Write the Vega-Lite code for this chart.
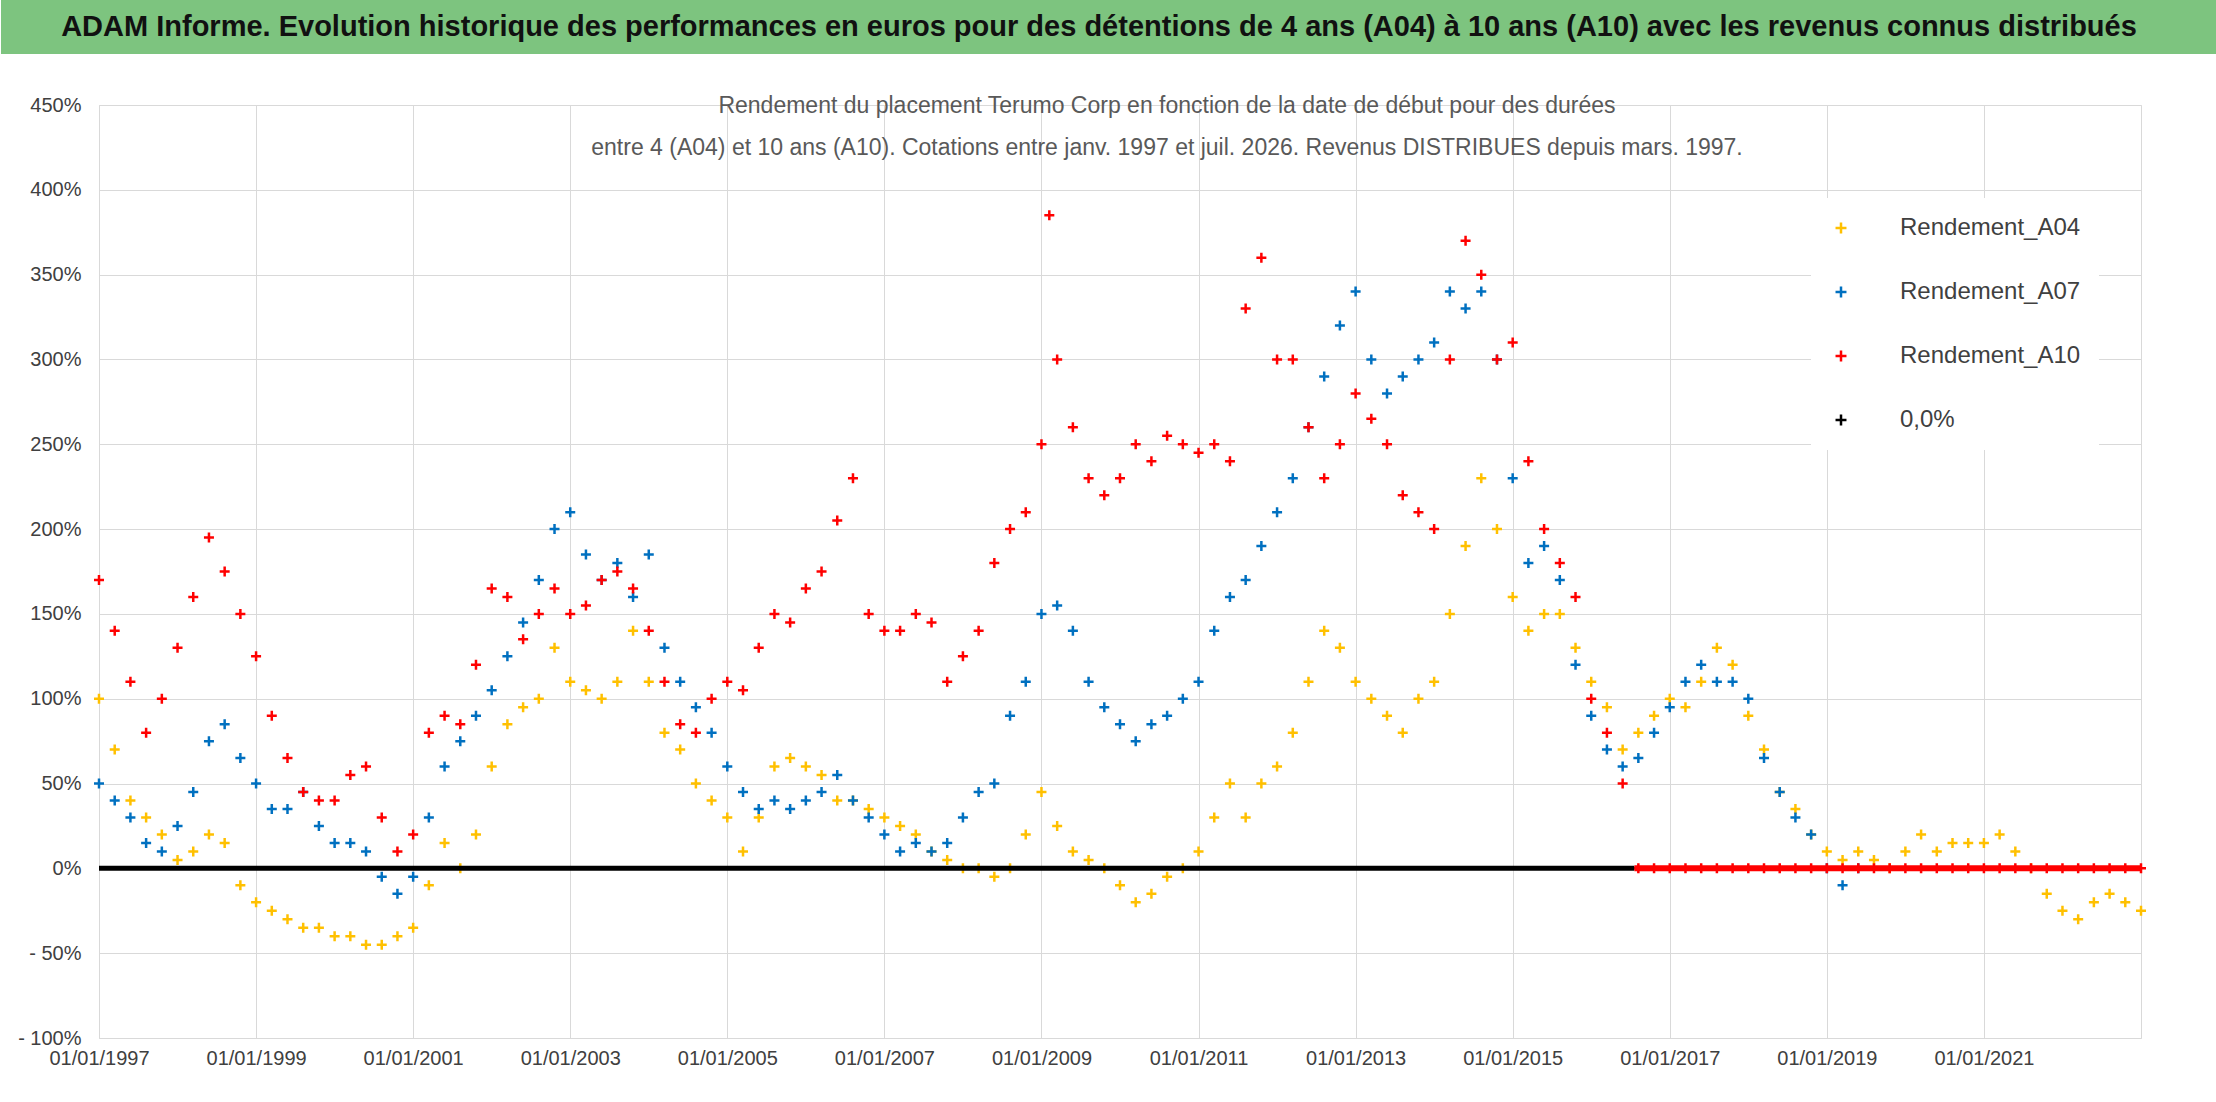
{
  "$schema": "https://vega.github.io/schema/vega-lite/v6.json",
  "padding": {"left": 0, "top": 0, "right": 0, "bottom": 4},
  "spacing": 40,
  "background": "white",
  "config": {"view": {"stroke": "#d9d9d9"}, "font": "Liberation Sans"},
  "datasets": {
    "pts": [
      {"x":1997.0,"a":100,"b":50,"c":170},{"x":1997.2,"a":70,"b":40,"c":140},{"x":1997.4,"a":40,"b":30,"c":110},
      {"x":1997.6,"a":30,"b":15,"c":80},{"x":1997.8,"a":20,"b":10,"c":100},{"x":1998.0,"a":5,"b":25,"c":130},
      {"x":1998.2,"a":10,"b":45,"c":160},{"x":1998.4,"a":20,"b":75,"c":195},{"x":1998.6,"a":15,"b":85,"c":175},
      {"x":1998.8,"a":-10,"b":65,"c":150},{"x":1999.0,"a":-20,"b":50,"c":125},{"x":1999.2,"a":-25,"b":35,"c":90},
      {"x":1999.4,"a":-30,"b":35,"c":65},{"x":1999.6,"a":-35,"b":45,"c":45},{"x":1999.8,"a":-35,"b":25,"c":40},
      {"x":2000.0,"a":-40,"b":15,"c":40},{"x":2000.2,"a":-40,"b":15,"c":55},{"x":2000.4,"a":-45,"b":10,"c":60},
      {"x":2000.6,"a":-45,"b":-5,"c":30},{"x":2000.8,"a":-40,"b":-15,"c":10},{"x":2001.0,"a":-35,"b":-5,"c":20},
      {"x":2001.2,"a":-10,"b":30,"c":80},{"x":2001.4,"a":15,"b":60,"c":90},{"x":2001.6,"a":0,"b":75,"c":85},
      {"x":2001.8,"a":20,"b":90,"c":120},{"x":2002.0,"a":60,"b":105,"c":165},{"x":2002.2,"a":85,"b":125,"c":160},
      {"x":2002.4,"a":95,"b":145,"c":135},{"x":2002.6,"a":100,"b":170,"c":150},{"x":2002.8,"a":130,"b":200,"c":165},
      {"x":2003.0,"a":110,"b":210,"c":150},{"x":2003.2,"a":105,"b":185,"c":155},{"x":2003.4,"a":100,"b":170,"c":170},
      {"x":2003.6,"a":110,"b":180,"c":175},{"x":2003.8,"a":140,"b":160,"c":165},{"x":2004.0,"a":110,"b":185,"c":140},
      {"x":2004.2,"a":80,"b":130,"c":110},{"x":2004.4,"a":70,"b":110,"c":85},{"x":2004.6,"a":50,"b":95,"c":80},
      {"x":2004.8,"a":40,"b":80,"c":100},{"x":2005.0,"a":30,"b":60,"c":110},{"x":2005.2,"a":10,"b":45,"c":105},
      {"x":2005.4,"a":30,"b":35,"c":130},{"x":2005.6,"a":60,"b":40,"c":150},{"x":2005.8,"a":65,"b":35,"c":145},
      {"x":2006.0,"a":60,"b":40,"c":165},{"x":2006.2,"a":55,"b":45,"c":175},{"x":2006.4,"a":40,"b":55,"c":205},
      {"x":2006.6,"a":40,"b":40,"c":230},{"x":2006.8,"a":35,"b":30,"c":150},{"x":2007.0,"a":30,"b":20,"c":140},
      {"x":2007.2,"a":25,"b":10,"c":140},{"x":2007.4,"a":20,"b":15,"c":150},{"x":2007.6,"a":10,"b":10,"c":145},
      {"x":2007.8,"a":5,"b":15,"c":110},{"x":2008.0,"a":0,"b":30,"c":125},{"x":2008.2,"a":0,"b":45,"c":140},
      {"x":2008.4,"a":-5,"b":50,"c":180},{"x":2008.6,"a":0,"b":90,"c":200},{"x":2008.8,"a":20,"b":110,"c":210},
      {"x":2009.0,"a":45,"b":150,"c":250},{"x":2009.1,"a":null,"b":null,"c":385},{"x":2009.2,"a":25,"b":155,"c":300},
      {"x":2009.4,"a":10,"b":140,"c":260},{"x":2009.6,"a":5,"b":110,"c":230},{"x":2009.8,"a":0,"b":95,"c":220},
      {"x":2010.0,"a":-10,"b":85,"c":230},{"x":2010.2,"a":-20,"b":75,"c":250},{"x":2010.4,"a":-15,"b":85,"c":240},
      {"x":2010.6,"a":-5,"b":90,"c":255},{"x":2010.8,"a":0,"b":100,"c":250},{"x":2011.0,"a":10,"b":110,"c":245},
      {"x":2011.2,"a":30,"b":140,"c":250},{"x":2011.4,"a":50,"b":160,"c":240},{"x":2011.6,"a":30,"b":170,"c":330},
      {"x":2011.8,"a":50,"b":190,"c":360},{"x":2012.0,"a":60,"b":210,"c":300},{"x":2012.2,"a":80,"b":230,"c":300},
      {"x":2012.4,"a":110,"b":260,"c":260},{"x":2012.6,"a":140,"b":290,"c":230},{"x":2012.8,"a":130,"b":320,"c":250},
      {"x":2013.0,"a":110,"b":340,"c":280},{"x":2013.2,"a":100,"b":300,"c":265},{"x":2013.4,"a":90,"b":280,"c":250},
      {"x":2013.6,"a":80,"b":290,"c":220},{"x":2013.8,"a":100,"b":300,"c":210},{"x":2014.0,"a":110,"b":310,"c":200},
      {"x":2014.2,"a":150,"b":340,"c":300},{"x":2014.4,"a":190,"b":330,"c":370},{"x":2014.6,"a":230,"b":340,"c":350},
      {"x":2014.8,"a":200,"b":300,"c":300},{"x":2015.0,"a":160,"b":230,"c":310},{"x":2015.2,"a":140,"b":180,"c":240},
      {"x":2015.4,"a":150,"b":190,"c":200},{"x":2015.6,"a":150,"b":170,"c":180},{"x":2015.8,"a":130,"b":120,"c":160},
      {"x":2016.0,"a":110,"b":90,"c":100},{"x":2016.2,"a":95,"b":70,"c":80},{"x":2016.4,"a":70,"b":60,"c":50},
      {"x":2016.6,"a":80,"b":65,"c":0},{"x":2016.8,"a":90,"b":80,"c":0},{"x":2017.0,"a":100,"b":95,"c":0},
      {"x":2017.2,"a":95,"b":110,"c":0},{"x":2017.4,"a":110,"b":120,"c":0},{"x":2017.6,"a":130,"b":110,"c":0},
      {"x":2017.8,"a":120,"b":110,"c":0},{"x":2018.0,"a":90,"b":100,"c":0},{"x":2018.2,"a":70,"b":65,"c":0},
      {"x":2018.4,"a":45,"b":45,"c":0},{"x":2018.6,"a":35,"b":30,"c":0},{"x":2018.8,"a":20,"b":20,"c":0},
      {"x":2019.0,"a":10,"b":0,"c":0},{"x":2019.2,"a":5,"b":-10,"c":0},{"x":2019.4,"a":10,"b":0,"c":0},
      {"x":2019.6,"a":5,"b":null,"c":0},{"x":2019.8,"a":0,"b":null,"c":0},{"x":2020.0,"a":10,"b":null,"c":0},
      {"x":2020.2,"a":20,"b":null,"c":0},{"x":2020.4,"a":10,"b":null,"c":0},{"x":2020.6,"a":15,"b":null,"c":0},
      {"x":2020.8,"a":15,"b":null,"c":0},{"x":2021.0,"a":15,"b":null,"c":0},{"x":2021.2,"a":20,"b":null,"c":0},
      {"x":2021.4,"a":10,"b":null,"c":0},{"x":2021.6,"a":0,"b":null,"c":0},{"x":2021.8,"a":-15,"b":null,"c":0},
      {"x":2022.0,"a":-25,"b":null,"c":0},{"x":2022.2,"a":-30,"b":null,"c":0},{"x":2022.4,"a":-20,"b":null,"c":0},
      {"x":2022.6,"a":-15,"b":null,"c":0},{"x":2022.8,"a":-20,"b":null,"c":0},{"x":2023.0,"a":-25,"b":null,"c":0}
    ]
  },
  "vconcat": [
    {
      "width": 2042,
      "height": 54,
      "view": {"stroke": null},
      "data": {"values": [{"t": "ADAM Informe. Evolution historique des performances en euros pour des détentions de 4 ans (A04) à 10 ans (A10) avec les revenus connus distribués"}]},
      "layer": [
        {
          "mark": {"type": "rect", "color": "#7dc47f"},
          "encoding": {"x": {"value": -98}, "x2": {"value": 2118}, "y": {"value": 0}, "y2": {"value": 54}}
        },
        {
          "mark": {"type": "text", "fontSize": 29, "fontWeight": "bold", "color": "#111111", "font": "Liberation Sans", "align": "center", "baseline": "middle"},
          "encoding": {"text": {"field": "t"}, "x": {"value": 1000}, "y": {"value": 27}}
        }
      ]
    },
    {
      "width": 2042,
      "height": 933,
      "title": {
        "text": ["Rendement du placement Terumo Corp en fonction de la date de début pour des durées", "entre 4 (A04) et 10 ans (A10). Cotations entre janv. 1997 et juil. 2026. Revenus DISTRIBUES depuis mars. 1997."],
        "fontSize": 23, "fontWeight": "normal", "color": "#595959", "offset": -65, "lineHeight": 42, "anchor": "middle", "dx": 47
      },
      "layer": [
        {
          "data": {"name": "pts"},
          "transform": [
            {"fold": ["a", "b", "c"], "as": ["k", "v"]},
            {"filter": "datum.v != null"},
            {"calculate": "datum.k == 'a' ? 'Rendement_A04' : datum.k == 'b' ? 'Rendement_A07' : 'Rendement_A10'", "as": "serie"}
          ],
          "mark": {"type": "point", "shape": "M-1,0H1M0,-1V1", "filled": false, "size": 100, "strokeWidth": 2.5, "opacity": 1},
          "encoding": {
            "x": {"field": "x", "type": "quantitative", "scale": {"domain": [1997, 2023], "nice": false, "zero": false},
              "axis": {"values": [1997,1999,2001,2003,2005,2007,2009,2011,2013,2015,2017,2019,2021], "labelExpr": "'01/01/' + datum.value", "title": null, "gridColor": "#d9d9d9", "domain": false, "ticks": false, "labelFontSize": 20, "labelColor": "#404040", "labelPadding": 10, "labelOverlap": false, "labelFlush": false}},
            "y": {"field": "v", "type": "quantitative", "scale": {"domain": [-100, 450], "nice": false},
              "axis": {"values": [-100,-50,0,50,100,150,200,250,300,350,400,450], "labelExpr": "datum.value < 0 ? '- ' + abs(datum.value) + '%' : datum.value + '%'", "title": null, "gridColor": "#d9d9d9", "domain": false, "ticks": false, "labelFontSize": 20, "labelColor": "#404040", "minExtent": 98, "labelPadding": 18}},
            "color": {"field": "serie", "type": "nominal",
              "scale": {"domain": ["Rendement_A04", "Rendement_A07", "Rendement_A10", "0,0%"], "range": ["#ffc000", "#0070c0", "#ff0000", "#000000"]},
              "legend": {"title": null, "orient": "none", "legendX": 1712, "legendY": 198, "labelFontSize": 24, "labelColor": "#404040", "labelLimit": 0, "symbolType": "M-1,0H1M0,-1V1", "symbolSize": 120, "symbolStrokeWidth": 2.5, "rowPadding": 40, "fillColor": "white", "padding": 18, "labelOffset": 47}},
            "order": {"field": "k"}
          }
        },
        {
          "data": {"values": [{"x1": 1997, "x2": 2016.55, "y": 0, "serie": "0,0%"}]},
          "mark": {"type": "rule", "strokeWidth": 5},
          "encoding": {
            "x": {"field": "x1", "type": "quantitative"},
            "x2": {"field": "x2"},
            "y": {"field": "y", "type": "quantitative"},
            "color": {"field": "serie", "type": "nominal"}
          }
        },
        {
          "data": {"values": [{"x1": 2016.55, "x2": 2023.0, "y": 0}]},
          "mark": {"type": "rule", "strokeWidth": 6, "color": "#ff0000"},
          "encoding": {
            "x": {"field": "x1", "type": "quantitative"},
            "x2": {"field": "x2"},
            "y": {"field": "y", "type": "quantitative"}
          }
        }
      ]
    }
  ]
}
